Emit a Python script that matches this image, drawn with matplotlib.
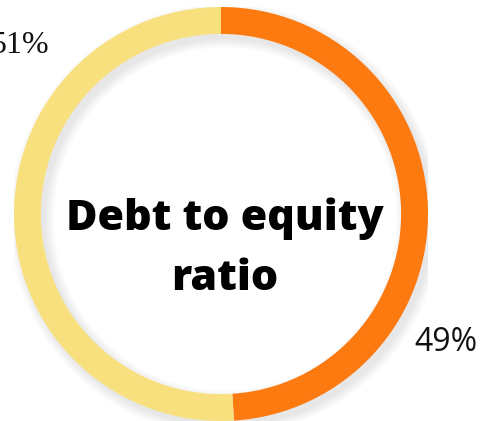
import matplotlib
matplotlib.use("Agg")
import matplotlib.pyplot as plt
from matplotlib.patches import Wedge

labels = ["Debt", "Equity"]
values = [49, 51]
pct_labels = ["49%", "51%"]
colors = ["#FC7A10", "#F9E07F"]
title_lines = ["Debt to equity", "ratio"]

fig = plt.figure(figsize=(4.82, 4.21), dpi=100)
ax = fig.add_axes([14/482, 0.0, 414/482, 414/421])
ax.set_xlim(-1, 1)
ax.set_ylim(-1, 1)
ax.set_aspect("equal")
ax.axis("off")

# soft drop shadow of the ring (offset down-right, blurred)
n = 12
for i in range(n):
    spread = 0.004 * i
    ax.add_patch(Wedge((0.02, -0.025), 1.0 + spread, 0, 360,
                       width=0.13 + 2 * spread,
                       facecolor="black", alpha=0.008, lw=0))

ax.pie(values, colors=colors, startangle=90, counterclock=False,
       radius=1.0, wedgeprops=dict(width=0.13, linewidth=0),
       frame=False)
ax.set_xlim(-1, 1)
ax.set_ylim(-1, 1)

ax.text(1.085, -0.62, pct_labels[0], fontsize=23, family="Open Sans",
        ha="center", va="center", color="#111111")
ax.text(-0.975, 0.815, pct_labels[1], fontsize=23, family="Liberation Serif",
        ha="center", va="center", color="#111111", clip_on=False)

ax.text(0.02, -0.077, title_lines[0], fontsize=31, family="Open Sans",
        fontweight="heavy", ha="center", va="baseline", color="black")
ax.text(0.02, -0.367, title_lines[1], fontsize=31, family="Open Sans",
        fontweight="heavy", ha="center", va="baseline", color="black")

fig.savefig("out.png", dpi=100)
